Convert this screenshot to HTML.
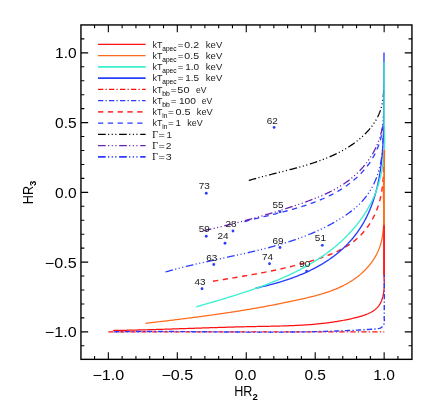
<!DOCTYPE html>
<html><head><meta charset="utf-8"><title>HR plot</title>
<style>
html,body{margin:0;padding:0;background:#fff;}
body{width:436px;height:411px;position:relative;overflow:hidden;font-family:"Liberation Sans",sans-serif;}
</style></head><body>
<svg width="436" height="411" viewBox="0 0 436 411" style="position:absolute;left:0;top:0;will-change:transform;opacity:0.999">
<rect x="0" y="0" width="436" height="411" fill="#fff"/>
<path d="M108.30,331.85 L384.30,331.85" fill="none" stroke="#ff1010" stroke-width="1.25" stroke-dasharray="5.3 2.2 1.3 2.2" stroke-linejoin="round"/>
<path d="M213.00,281.25 L214.21,281.05 L215.41,280.84 L216.62,280.64 L217.82,280.44 L219.03,280.24 L220.23,280.04 L221.43,279.84 L222.63,279.64 L223.83,279.44 L225.03,279.24 L226.22,279.04 L227.42,278.84 L228.62,278.64 L229.81,278.44 L231.00,278.24 L232.20,278.04 L233.39,277.84 L234.58,277.64 L235.77,277.44 L236.96,277.24 L238.15,277.04 L239.34,276.84 L240.52,276.64 L241.71,276.43 L242.90,276.23 L244.08,276.02 L245.27,275.82 L246.45,275.61 L247.64,275.41 L248.82,275.20 L250.00,274.99 L251.18,274.78 L252.37,274.56 L253.55,274.35 L254.73,274.14 L255.91,273.92 L257.09,273.70 L258.27,273.48 L259.45,273.26 L260.62,273.04 L261.80,272.82 L262.98,272.59 L264.16,272.36 L265.34,272.13 L266.51,271.90 L267.69,271.67 L268.87,271.43 L270.04,271.19 L271.22,270.95 L272.40,270.71 L273.57,270.47 L274.75,270.22 L275.92,269.97 L277.10,269.71 L278.27,269.46 L279.45,269.20 L280.63,268.94 L281.80,268.68 L282.98,268.41 L284.15,268.14 L285.33,267.87 L286.50,267.59 L287.68,267.32 L288.86,267.03 L290.03,266.75 L291.21,266.46 L292.38,266.17 L293.56,265.87 L294.74,265.58 L295.92,265.27 L297.09,264.97 L298.27,264.66 L299.45,264.34 L300.63,264.03 L301.80,263.71 L302.98,263.38 L304.16,263.05 L305.34,262.72 L306.52,262.38 L307.70,262.04 L308.88,261.70 L310.07,261.35 L311.25,260.99 L312.43,260.63 L313.61,260.27 L314.80,259.90 L315.98,259.53 L317.16,259.15 L318.34,258.76 L319.52,258.37 L320.69,257.97 L321.87,257.57 L323.04,257.16 L324.21,256.74 L325.37,256.32 L326.53,255.88 L327.69,255.44 L328.84,254.99 L329.99,254.54 L331.13,254.07 L332.27,253.59 L333.40,253.11 L334.52,252.62 L335.64,252.11 L336.75,251.60 L337.85,251.07 L338.94,250.54 L340.03,249.99 L341.11,249.44 L342.18,248.87 L343.24,248.29 L344.28,247.70 L345.32,247.09 L346.35,246.47 L347.37,245.84 L348.38,245.20 L349.38,244.55 L350.36,243.88 L351.33,243.19 L352.29,242.50 L353.24,241.78 L354.17,241.06 L355.09,240.32 L355.99,239.56 L356.88,238.79 L357.76,238.00 L358.62,237.20 L359.47,236.39 L360.31,235.56 L361.12,234.72 L361.93,233.86 L362.72,232.99 L363.50,232.10 L364.26,231.21 L365.01,230.30 L365.74,229.38 L366.45,228.44 L367.16,227.50 L367.85,226.54 L368.52,225.57 L369.18,224.59 L369.82,223.60 L370.45,222.59 L371.06,221.58 L371.66,220.56 L372.24,219.52 L372.81,218.48 L373.36,217.42 L373.90,216.36 L374.42,215.28 L374.93,214.20 L375.42,213.11 L375.90,212.01 L376.36,210.90 L376.80,209.78 L377.23,208.65 L377.64,207.52 L378.04,206.38 L378.42,205.23 L378.79,204.07 L379.14,202.91 L379.48,201.74 L379.79,200.56 L380.10,199.38 L380.38,198.19 L380.66,196.99 L380.91,195.79 L381.15,194.59 L381.38,193.38 L381.60,192.17 L381.80,190.95 L381.99,189.73 L382.16,188.50 L382.33,187.27 L382.48,186.04 L382.62,184.81 L382.75,183.58 L382.87,182.34 L382.98,181.11 L383.08,179.87 L383.17,178.63 L383.26,177.39 L383.33,176.15 L383.40,174.92 L383.46,173.68 L383.52,172.45 L383.56,171.21 L383.60,169.98 L383.64,168.75 L383.67,167.53 L383.70,166.30 L383.72,165.09 L383.74,163.87 L383.75,162.66 L383.76,161.45 L383.77,160.25 L383.78,159.05 L383.78,157.86 L383.79,156.68 L383.79,155.50 L383.79,154.32 L383.80,153.16 L383.80,152.00" fill="none" stroke="#ff2020" stroke-width="1.45" stroke-dasharray="5.3 4.5" stroke-linejoin="round"/>
<path d="M244.50,221.60 L245.61,221.30 L246.72,221.00 L247.84,220.70 L248.96,220.41 L250.09,220.12 L251.22,219.82 L252.36,219.53 L253.49,219.24 L254.64,218.96 L255.78,218.67 L256.93,218.38 L258.09,218.09 L259.24,217.81 L260.40,217.52 L261.56,217.23 L262.73,216.95 L263.89,216.66 L265.06,216.38 L266.24,216.09 L267.41,215.80 L268.59,215.51 L269.76,215.22 L270.94,214.93 L272.13,214.64 L273.31,214.35 L274.49,214.05 L275.68,213.76 L276.86,213.46 L278.05,213.16 L279.24,212.86 L280.43,212.55 L281.62,212.25 L282.81,211.94 L284.00,211.63 L285.19,211.31 L286.38,211.00 L287.57,210.68 L288.76,210.35 L289.95,210.03 L291.13,209.70 L292.32,209.37 L293.51,209.03 L294.69,208.69 L295.88,208.34 L297.06,207.99 L298.24,207.64 L299.42,207.28 L300.60,206.92 L301.78,206.55 L302.95,206.18 L304.12,205.80 L305.29,205.42 L306.46,205.04 L307.62,204.64 L308.79,204.24 L309.95,203.84 L311.10,203.43 L312.25,203.02 L313.40,202.59 L314.55,202.17 L315.69,201.73 L316.83,201.29 L317.97,200.84 L319.10,200.39 L320.22,199.93 L321.35,199.46 L322.46,198.98 L323.58,198.50 L324.69,198.01 L325.79,197.51 L326.89,197.00 L327.98,196.49 L329.07,195.96 L330.15,195.43 L331.23,194.90 L332.30,194.35 L333.37,193.79 L334.43,193.23 L335.48,192.65 L336.53,192.07 L337.57,191.48 L338.61,190.87 L339.64,190.26 L340.66,189.64 L341.67,189.01 L342.68,188.37 L343.68,187.72 L344.67,187.06 L345.66,186.39 L346.63,185.71 L347.60,185.01 L348.56,184.31 L349.52,183.60 L350.46,182.87 L351.40,182.14 L352.33,181.39 L353.25,180.63 L354.16,179.86 L355.06,179.07 L355.96,178.28 L356.84,177.47 L357.71,176.66 L358.58,175.83 L359.43,174.99 L360.27,174.13 L361.11,173.27 L361.93,172.39 L362.74,171.51 L363.53,170.61 L364.32,169.70 L365.09,168.78 L365.86,167.85 L366.60,166.91 L367.34,165.96 L368.06,165.00 L368.77,164.03 L369.46,163.05 L370.14,162.06 L370.80,161.06 L371.45,160.04 L372.08,159.02 L372.70,157.99 L373.30,156.95 L373.89,155.90 L374.46,154.84 L375.01,153.77 L375.54,152.70 L376.06,151.61 L376.56,150.51 L377.04,149.41 L377.51,148.29 L377.95,147.17 L378.38,146.04 L378.79,144.91 L379.19,143.76 L379.56,142.61 L379.92,141.45 L380.25,140.29 L380.58,139.12 L380.88,137.94 L381.16,136.76 L381.43,135.57 L381.68,134.38 L381.91,133.18 L382.12,131.98 L382.31,130.77 L382.49,129.56 L382.64,128.35 L382.78,127.13 L382.90,125.91 L383.00,124.68 L383.09,123.46 L383.15,122.23 L383.20,121.00" fill="none" stroke="#2a3cff" stroke-width="1.3" stroke-dasharray="5.3 4.5" stroke-linejoin="round"/>
<path d="M248.75,180.50 L249.86,180.16 L250.98,179.83 L252.11,179.50 L253.23,179.17 L254.37,178.85 L255.50,178.53 L256.64,178.21 L257.79,177.89 L258.94,177.58 L260.09,177.27 L261.24,176.96 L262.40,176.65 L263.56,176.35 L264.73,176.04 L265.90,175.74 L267.07,175.44 L268.24,175.14 L269.42,174.84 L270.60,174.54 L271.78,174.24 L272.96,173.94 L274.15,173.65 L275.34,173.35 L276.53,173.05 L277.72,172.75 L278.91,172.45 L280.10,172.15 L281.30,171.85 L282.49,171.55 L283.69,171.25 L284.89,170.95 L286.09,170.64 L287.29,170.34 L288.48,170.03 L289.68,169.72 L290.88,169.41 L292.08,169.09 L293.28,168.78 L294.48,168.46 L295.68,168.14 L296.87,167.81 L298.07,167.48 L299.26,167.15 L300.46,166.82 L301.65,166.48 L302.84,166.14 L304.03,165.79 L305.22,165.44 L306.41,165.09 L307.59,164.73 L308.78,164.37 L309.96,164.00 L311.13,163.63 L312.31,163.25 L313.48,162.87 L314.65,162.48 L315.82,162.08 L316.98,161.68 L318.14,161.28 L319.30,160.87 L320.46,160.45 L321.61,160.02 L322.75,159.59 L323.90,159.16 L325.03,158.71 L326.17,158.26 L327.30,157.80 L328.42,157.34 L329.54,156.86 L330.66,156.38 L331.77,155.89 L332.88,155.40 L333.98,154.89 L335.07,154.38 L336.17,153.85 L337.25,153.32 L338.33,152.78 L339.40,152.23 L340.47,151.68 L341.53,151.11 L342.58,150.53 L343.63,149.95 L344.67,149.35 L345.71,148.74 L346.73,148.13 L347.75,147.50 L348.77,146.86 L349.77,146.21 L350.77,145.55 L351.76,144.88 L352.75,144.20 L353.72,143.51 L354.69,142.81 L355.65,142.09 L356.60,141.36 L357.54,140.62 L358.48,139.87 L359.40,139.11 L360.32,138.33 L361.22,137.54 L362.12,136.74 L363.01,135.93 L363.89,135.10 L364.76,134.26 L365.61,133.40 L366.46,132.54 L367.29,131.66 L368.10,130.77 L368.91,129.86 L369.69,128.94 L370.47,128.01 L371.22,127.07 L371.96,126.11 L372.68,125.14 L373.38,124.16 L374.06,123.16 L374.72,122.15 L375.36,121.13 L375.97,120.10 L376.57,119.05 L377.14,117.99 L377.69,116.92 L378.21,115.83 L378.71,114.73 L379.18,113.62 L379.63,112.50 L380.05,111.36 L380.44,110.21 L380.80,109.05 L381.14,107.88 L381.45,106.70 L381.74,105.51 L382.01,104.31 L382.25,103.10 L382.48,101.89 L382.68,100.68 L382.86,99.46 L383.02,98.23 L383.17,97.01 L383.29,95.78 L383.41,94.55 L383.50,93.32 L383.58,92.09 L383.65,90.87 L383.70,89.64 L383.75,88.42 L383.78,87.21 L383.80,86.00" fill="none" stroke="#000" stroke-width="1.25" stroke-dasharray="7.7 2.4 1.1 2.5 1.1 2.5 1.1 2.7" stroke-linejoin="round"/>
<path d="M203.75,230.75 L204.94,230.48 L206.12,230.20 L207.31,229.93 L208.49,229.65 L209.68,229.38 L210.86,229.10 L212.04,228.82 L213.22,228.54 L214.40,228.26 L215.58,227.98 L216.76,227.70 L217.94,227.42 L219.12,227.14 L220.29,226.85 L221.47,226.57 L222.64,226.28 L223.82,225.99 L224.99,225.70 L226.16,225.41 L227.33,225.12 L228.50,224.83 L229.67,224.54 L230.84,224.25 L232.01,223.95 L233.18,223.65 L234.35,223.36 L235.51,223.06 L236.68,222.76 L237.85,222.46 L239.01,222.16 L240.18,221.85 L241.34,221.55 L242.50,221.24 L243.67,220.93 L244.83,220.62 L245.99,220.31 L247.15,220.00 L248.31,219.69 L249.47,219.38 L250.63,219.06 L251.79,218.74 L252.95,218.42 L254.11,218.10 L255.27,217.78 L256.43,217.46 L257.58,217.13 L258.74,216.81 L259.90,216.48 L261.05,216.15 L262.21,215.82 L263.37,215.48 L264.52,215.15 L265.68,214.81 L266.83,214.48 L267.99,214.14 L269.14,213.79 L270.29,213.45 L271.45,213.11 L272.60,212.76 L273.75,212.41 L274.91,212.06 L276.06,211.71 L277.21,211.35 L278.36,211.00 L279.52,210.64 L280.67,210.28 L281.82,209.92 L282.97,209.56 L284.12,209.19 L285.28,208.82 L286.43,208.45 L287.58,208.08 L288.73,207.71 L289.88,207.33 L291.03,206.96 L292.18,206.58 L293.33,206.19 L294.49,205.81 L295.64,205.42 L296.79,205.04 L297.94,204.65 L299.09,204.25 L300.24,203.86 L301.39,203.46 L302.54,203.06 L303.69,202.66 L304.84,202.25 L305.99,201.84 L307.14,201.43 L308.28,201.01 L309.43,200.59 L310.57,200.16 L311.71,199.73 L312.85,199.30 L313.98,198.86 L315.12,198.41 L316.25,197.96 L317.38,197.51 L318.50,197.05 L319.62,196.58 L320.74,196.10 L321.86,195.62 L322.97,195.14 L324.08,194.64 L325.18,194.14 L326.28,193.64 L327.37,193.12 L328.46,192.60 L329.55,192.07 L330.63,191.53 L331.70,190.98 L332.77,190.42 L333.83,189.86 L334.89,189.28 L335.94,188.70 L336.99,188.11 L338.03,187.51 L339.06,186.89 L340.09,186.27 L341.11,185.64 L342.12,185.00 L343.12,184.34 L344.12,183.68 L345.11,183.00 L346.09,182.31 L347.07,181.61 L348.03,180.90 L348.99,180.18 L349.94,179.45 L350.88,178.70 L351.81,177.94 L352.73,177.17 L353.64,176.39 L354.55,175.60 L355.44,174.80 L356.32,173.98 L357.19,173.16 L358.06,172.32 L358.91,171.48 L359.75,170.62 L360.58,169.75 L361.39,168.87 L362.20,167.98 L363.00,167.09 L363.78,166.18 L364.55,165.26 L365.31,164.33 L366.05,163.39 L366.79,162.45 L367.51,161.49 L368.21,160.52 L368.90,159.55 L369.58,158.56 L370.25,157.57 L370.90,156.56 L371.54,155.55 L372.16,154.53 L372.77,153.50 L373.36,152.47 L373.94,151.42 L374.50,150.37 L375.05,149.30 L375.58,148.23 L376.10,147.15 L376.60,146.07 L377.08,144.97 L377.55,143.87 L378.00,142.76 L378.43,141.65 L378.84,140.52 L379.24,139.39 L379.62,138.26 L379.98,137.11 L380.33,135.96 L380.65,134.80 L380.96,133.64 L381.25,132.47 L381.52,131.29 L381.77,130.11 L382.00,128.92 L382.22,127.72 L382.41,126.52 L382.58,125.31 L382.73,124.10 L382.86,122.88 L382.98,121.65 L383.07,120.42 L383.14,119.19 L383.18,117.95 L383.21,116.70 L383.22,115.45 L383.20,114.20" fill="none" stroke="#6a22b4" stroke-width="1.3" stroke-dasharray="7.7 2.4 1.1 2.5 1.1 2.5 1.1 2.7" stroke-linejoin="round"/>
<path d="M165.50,272.00 L166.63,271.67 L167.76,271.34 L168.89,271.01 L170.03,270.69 L171.17,270.37 L172.31,270.05 L173.45,269.73 L174.59,269.42 L175.74,269.11 L176.88,268.81 L178.03,268.50 L179.18,268.20 L180.34,267.90 L181.49,267.61 L182.65,267.31 L183.80,267.02 L184.96,266.73 L186.12,266.45 L187.28,266.16 L188.45,265.88 L189.61,265.60 L190.78,265.32 L191.95,265.04 L193.12,264.76 L194.29,264.49 L195.46,264.22 L196.63,263.95 L197.80,263.68 L198.98,263.41 L200.15,263.14 L201.33,262.88 L202.51,262.61 L203.69,262.35 L204.87,262.09 L206.05,261.83 L207.23,261.57 L208.41,261.31 L209.60,261.05 L210.78,260.79 L211.96,260.54 L213.15,260.28 L214.33,260.02 L215.52,259.77 L216.71,259.51 L217.90,259.26 L219.08,259.00 L220.27,258.75 L221.46,258.49 L222.65,258.24 L223.84,257.99 L225.03,257.73 L226.22,257.48 L227.41,257.22 L228.60,256.96 L229.79,256.71 L230.98,256.45 L232.17,256.19 L233.36,255.94 L234.56,255.68 L235.75,255.42 L236.94,255.16 L238.13,254.90 L239.32,254.64 L240.51,254.37 L241.70,254.11 L242.89,253.84 L244.08,253.58 L245.27,253.31 L246.46,253.04 L247.64,252.77 L248.83,252.50 L250.02,252.22 L251.21,251.95 L252.39,251.67 L253.58,251.39 L254.76,251.11 L255.95,250.83 L257.13,250.54 L258.31,250.25 L259.50,249.96 L260.68,249.67 L261.86,249.38 L263.04,249.08 L264.22,248.78 L265.39,248.48 L266.57,248.18 L267.75,247.87 L268.92,247.56 L270.09,247.25 L271.27,246.93 L272.44,246.62 L273.61,246.29 L274.77,245.97 L275.94,245.64 L277.11,245.31 L278.27,244.98 L279.43,244.64 L280.60,244.30 L281.76,243.96 L282.91,243.61 L284.07,243.26 L285.23,242.90 L286.38,242.54 L287.53,242.18 L288.68,241.82 L289.83,241.44 L290.97,241.07 L292.12,240.69 L293.26,240.31 L294.40,239.92 L295.54,239.53 L296.68,239.13 L297.81,238.73 L298.95,238.33 L300.08,237.92 L301.20,237.50 L302.33,237.08 L303.45,236.66 L304.58,236.23 L305.70,235.80 L306.81,235.36 L307.93,234.91 L309.04,234.46 L310.15,234.01 L311.26,233.55 L312.36,233.08 L313.46,232.61 L314.56,232.14 L315.66,231.66 L316.76,231.17 L317.85,230.67 L318.94,230.18 L320.02,229.67 L321.11,229.16 L322.19,228.64 L323.26,228.12 L324.34,227.59 L325.41,227.05 L326.48,226.51 L327.54,225.96 L328.61,225.41 L329.67,224.85 L330.72,224.28 L331.78,223.71 L332.83,223.12 L333.87,222.54 L334.91,221.94 L335.95,221.34 L336.99,220.73 L338.02,220.12 L339.05,219.49 L340.08,218.86 L341.10,218.22 L342.12,217.58 L343.13,216.93 L344.14,216.26 L345.14,215.59 L346.14,214.92 L347.13,214.23 L348.11,213.53 L349.09,212.83 L350.06,212.11 L351.01,211.38 L351.96,210.65 L352.90,209.90 L353.83,209.14 L354.75,208.38 L355.66,207.60 L356.56,206.81 L357.44,206.00 L358.31,205.19 L359.17,204.36 L360.02,203.52 L360.85,202.67 L361.67,201.80 L362.47,200.92 L363.26,200.03 L364.03,199.12 L364.79,198.20 L365.53,197.27 L366.25,196.33 L366.97,195.37 L367.66,194.40 L368.34,193.42 L369.00,192.43 L369.65,191.42 L370.28,190.41 L370.89,189.38 L371.49,188.34 L372.08,187.30 L372.64,186.24 L373.19,185.17 L373.73,184.09 L374.24,183.00 L374.74,181.90 L375.23,180.79 L375.69,179.67 L376.14,178.55 L376.58,177.41 L377.00,176.27 L377.40,175.12 L377.79,173.97 L378.16,172.80 L378.51,171.63 L378.85,170.46 L379.18,169.27 L379.49,168.09 L379.78,166.90 L380.06,165.70 L380.33,164.50 L380.58,163.30 L380.82,162.10 L381.05,160.89 L381.26,159.68 L381.46,158.47 L381.65,157.25 L381.82,156.04 L381.98,154.82 L382.13,153.61 L382.26,152.40 L382.39,151.18 L382.50,149.97 L382.60,148.76 L382.69,147.55 L382.76,146.34 L382.83,145.14 L382.88,143.94 L382.93,142.74 L382.96,141.55 L382.98,140.36 L383.00,139.18 L383.00,138.00" fill="none" stroke="#2a3cff" stroke-width="1.3" stroke-dasharray="7.7 2.4 1.1 2.5 1.1 2.5 1.1 2.7" stroke-linejoin="round"/>
<path d="M113.10,330.50 L114.31,330.48 L115.52,330.46 L116.72,330.44 L117.93,330.42 L119.14,330.40 L120.35,330.38 L121.55,330.35 L122.76,330.33 L123.97,330.31 L125.18,330.28 L126.39,330.26 L127.59,330.23 L128.80,330.20 L130.01,330.18 L131.22,330.15 L132.43,330.12 L133.64,330.09 L134.84,330.06 L136.05,330.04 L137.26,330.01 L138.47,329.97 L139.68,329.94 L140.89,329.91 L142.10,329.88 L143.30,329.85 L144.51,329.82 L145.72,329.78 L146.93,329.75 L148.14,329.72 L149.35,329.68 L150.56,329.65 L151.77,329.61 L152.98,329.58 L154.18,329.54 L155.39,329.51 L156.60,329.47 L157.81,329.43 L159.02,329.40 L160.23,329.36 L161.44,329.32 L162.65,329.28 L163.86,329.25 L165.07,329.21 L166.28,329.17 L167.49,329.13 L168.69,329.09 L169.90,329.05 L171.11,329.01 L172.32,328.98 L173.53,328.94 L174.74,328.90 L175.95,328.86 L177.16,328.82 L178.37,328.78 L179.58,328.74 L180.79,328.70 L182.00,328.66 L183.21,328.62 L184.42,328.58 L185.62,328.54 L186.83,328.50 L188.04,328.46 L189.25,328.42 L190.46,328.38 L191.67,328.34 L192.88,328.30 L194.09,328.26 L195.30,328.22 L196.51,328.18 L197.72,328.14 L198.93,328.10 L200.14,328.06 L201.34,328.02 L202.55,327.98 L203.76,327.94 L204.97,327.90 L206.18,327.86 L207.39,327.82 L208.60,327.78 L209.81,327.74 L211.02,327.70 L212.23,327.67 L213.44,327.63 L214.64,327.59 L215.85,327.55 L217.06,327.51 L218.27,327.48 L219.48,327.44 L220.69,327.40 L221.90,327.37 L223.11,327.33 L224.31,327.30 L225.52,327.26 L226.73,327.23 L227.94,327.19 L229.15,327.16 L230.36,327.12 L231.57,327.09 L232.77,327.06 L233.98,327.02 L235.19,326.99 L236.40,326.96 L237.61,326.93 L238.82,326.90 L240.02,326.87 L241.23,326.84 L242.44,326.81 L243.65,326.78 L244.85,326.75 L246.06,326.72 L247.27,326.70 L248.48,326.67 L249.69,326.64 L250.89,326.62 L252.10,326.59 L253.31,326.57 L254.52,326.54 L255.72,326.52 L256.93,326.50 L258.14,326.47 L259.34,326.45 L260.55,326.43 L261.76,326.41 L262.97,326.39 L264.17,326.36 L265.38,326.34 L266.59,326.32 L267.79,326.30 L269.00,326.27 L270.21,326.25 L271.41,326.23 L272.62,326.20 L273.82,326.18 L275.03,326.15 L276.24,326.12 L277.44,326.09 L278.65,326.07 L279.86,326.03 L281.06,326.00 L282.27,325.97 L283.47,325.93 L284.68,325.90 L285.89,325.86 L287.09,325.82 L288.30,325.78 L289.50,325.73 L290.71,325.69 L291.91,325.64 L293.12,325.59 L294.32,325.54 L295.53,325.48 L296.74,325.43 L297.94,325.37 L299.15,325.30 L300.35,325.24 L301.56,325.17 L302.76,325.10 L303.97,325.02 L305.17,324.95 L306.38,324.87 L307.58,324.78 L308.79,324.69 L309.99,324.60 L311.20,324.51 L312.40,324.41 L313.61,324.31 L314.81,324.20 L316.02,324.09 L317.22,323.98 L318.43,323.86 L319.63,323.74 L320.84,323.61 L322.04,323.48 L323.25,323.35 L324.45,323.21 L325.65,323.06 L326.86,322.91 L328.06,322.76 L329.27,322.60 L330.47,322.43 L331.68,322.26 L332.88,322.09 L334.09,321.91 L335.29,321.72 L336.49,321.53 L337.70,321.33 L338.90,321.13 L340.11,320.92 L341.31,320.71 L342.52,320.49 L343.72,320.26 L344.92,320.03 L346.13,319.79 L347.33,319.54 L348.54,319.29 L349.74,319.04 L350.94,318.77 L352.15,318.50 L353.35,318.22 L354.56,317.94 L355.76,317.64 L356.96,317.34 L358.16,317.03 L359.36,316.71 L360.55,316.38 L361.72,316.03 L362.89,315.67 L364.04,315.28 L365.18,314.88 L366.30,314.46 L367.41,314.01 L368.49,313.54 L369.55,313.04 L370.58,312.51 L371.58,311.96 L372.56,311.37 L373.51,310.75 L374.42,310.09 L375.29,309.40 L376.13,308.67 L376.93,307.90 L377.69,307.09 L378.41,306.24 L379.08,305.34 L379.70,304.40 L380.28,303.41 L380.81,302.38 L381.29,301.31 L381.74,300.20 L382.14,299.07 L382.51,297.91 L382.83,296.72 L383.12,295.50 L383.37,294.27 L383.59,293.03 L383.77,291.77 L383.93,290.50 L384.05,289.23 L384.15,287.95 L384.22,286.67 L384.26,285.40 L384.28,284.13 L384.27,282.87 L384.25,281.63 L384.20,280.40 L384.13,279.19 L384.05,278.00 L384.05,224.00" fill="none" stroke="#ff1010" stroke-width="1.25" stroke-linejoin="round"/>
<path d="M145.50,323.30 L146.72,323.16 L147.94,323.02 L149.16,322.88 L150.38,322.74 L151.59,322.60 L152.81,322.46 L154.02,322.32 L155.24,322.18 L156.45,322.04 L157.66,321.90 L158.87,321.75 L160.08,321.61 L161.29,321.47 L162.50,321.33 L163.71,321.19 L164.91,321.04 L166.12,320.90 L167.32,320.76 L168.53,320.61 L169.73,320.47 L170.93,320.32 L172.13,320.18 L173.33,320.03 L174.53,319.89 L175.73,319.74 L176.93,319.59 L178.13,319.45 L179.33,319.30 L180.52,319.15 L181.72,319.00 L182.91,318.85 L184.11,318.70 L185.30,318.55 L186.49,318.40 L187.69,318.25 L188.88,318.10 L190.07,317.95 L191.26,317.79 L192.45,317.64 L193.64,317.48 L194.83,317.33 L196.01,317.17 L197.20,317.02 L198.39,316.86 L199.58,316.70 L200.76,316.54 L201.95,316.38 L203.13,316.22 L204.32,316.06 L205.50,315.90 L206.69,315.74 L207.87,315.58 L209.06,315.41 L210.24,315.25 L211.42,315.08 L212.60,314.92 L213.79,314.75 L214.97,314.58 L216.15,314.41 L217.33,314.24 L218.51,314.07 L219.69,313.90 L220.87,313.73 L222.05,313.56 L223.23,313.38 L224.41,313.21 L225.59,313.03 L226.77,312.85 L227.95,312.67 L229.13,312.50 L230.31,312.31 L231.49,312.13 L232.67,311.95 L233.84,311.77 L235.02,311.58 L236.20,311.40 L237.38,311.21 L238.56,311.02 L239.74,310.83 L240.92,310.64 L242.09,310.45 L243.27,310.26 L244.45,310.07 L245.63,309.87 L246.81,309.68 L247.99,309.48 L249.16,309.28 L250.34,309.08 L251.52,308.88 L252.70,308.68 L253.88,308.47 L255.06,308.27 L256.24,308.06 L257.42,307.85 L258.60,307.65 L259.78,307.44 L260.96,307.22 L262.14,307.01 L263.32,306.80 L264.50,306.58 L265.68,306.36 L266.86,306.15 L268.05,305.93 L269.23,305.70 L270.41,305.48 L271.59,305.26 L272.78,305.03 L273.96,304.80 L275.14,304.57 L276.33,304.34 L277.51,304.11 L278.70,303.88 L279.88,303.64 L281.07,303.41 L282.25,303.17 L283.44,302.93 L284.63,302.69 L285.82,302.44 L287.01,302.20 L288.19,301.95 L289.38,301.70 L290.57,301.45 L291.76,301.20 L292.96,300.95 L294.15,300.69 L295.34,300.44 L296.53,300.18 L297.73,299.92 L298.92,299.66 L300.12,299.39 L301.31,299.13 L302.51,298.86 L303.70,298.59 L304.90,298.31 L306.09,298.03 L307.28,297.75 L308.48,297.47 L309.67,297.18 L310.86,296.89 L312.05,296.59 L313.24,296.29 L314.42,295.98 L315.61,295.66 L316.79,295.35 L317.97,295.02 L319.14,294.69 L320.31,294.35 L321.48,294.01 L322.65,293.66 L323.81,293.30 L324.97,292.93 L326.13,292.56 L327.28,292.18 L328.43,291.79 L329.57,291.39 L330.71,290.98 L331.84,290.56 L332.97,290.14 L334.09,289.70 L335.21,289.26 L336.32,288.80 L337.42,288.33 L338.52,287.86 L339.61,287.37 L340.70,286.87 L341.78,286.36 L342.85,285.83 L343.92,285.30 L344.97,284.75 L346.02,284.19 L347.07,283.62 L348.10,283.03 L349.13,282.44 L350.14,281.82 L351.15,281.20 L352.15,280.56 L353.15,279.90 L354.13,279.23 L355.10,278.54 L356.06,277.84 L357.02,277.13 L357.96,276.40 L358.89,275.65 L359.81,274.89 L360.72,274.12 L361.61,273.33 L362.50,272.53 L363.37,271.71 L364.23,270.88 L365.07,270.04 L365.90,269.18 L366.71,268.31 L367.51,267.42 L368.30,266.53 L369.06,265.62 L369.81,264.69 L370.55,263.76 L371.27,262.81 L371.97,261.85 L372.65,260.88 L373.31,259.89 L373.96,258.90 L374.58,257.89 L375.19,256.87 L375.77,255.84 L376.34,254.80 L376.88,253.75 L377.40,252.68 L377.90,251.61 L378.38,250.52 L378.83,249.43 L379.27,248.32 L379.68,247.21 L380.06,246.08 L380.42,244.95 L380.76,243.80 L381.07,242.65 L381.37,241.49 L381.64,240.32 L381.89,239.14 L382.12,237.95 L382.33,236.76 L382.53,235.57 L382.71,234.36 L382.87,233.16 L383.01,231.94 L383.14,230.73 L383.26,229.50 L383.36,228.28 L383.45,227.05 L383.52,225.82 L383.59,224.59 L383.64,223.36 L383.69,222.12 L383.72,220.89 L383.75,219.65 L383.77,218.42 L383.78,217.18 L383.78,215.95 L383.78,214.71 L383.77,213.48 L383.76,212.24 L383.75,211.01 L383.73,209.78 L383.70,208.55 L383.68,207.32 L383.65,206.09 L383.62,204.87 L383.60,203.64 L383.57,202.42 L383.54,201.20 L383.51,199.98 L383.48,198.76 L383.46,197.54 L383.44,196.33 L383.42,195.12 L383.41,193.91 L383.40,192.70 L383.39,191.50 L383.40,190.30 L383.40,189.10 L383.42,187.91 L383.44,186.71 L383.47,185.53 L383.51,184.34 L383.56,183.16 L383.62,181.98 L383.68,180.81 L383.76,179.64 L383.85,178.47 L383.96,177.31 L384.07,176.15 L384.20,175.00 L384.50,150.00 L384.50,127.00" fill="none" stroke="#ff6a1a" stroke-width="1.25" stroke-linejoin="round"/>
<path d="M255.50,288.25 L256.65,288.00 L257.81,287.75 L258.96,287.49 L260.12,287.23 L261.28,286.96 L262.44,286.69 L263.60,286.42 L264.76,286.14 L265.92,285.85 L267.09,285.56 L268.25,285.27 L269.42,284.97 L270.58,284.67 L271.75,284.36 L272.91,284.04 L274.08,283.72 L275.24,283.40 L276.41,283.07 L277.57,282.73 L278.73,282.39 L279.90,282.04 L281.06,281.69 L282.22,281.33 L283.38,280.97 L284.54,280.60 L285.70,280.22 L286.85,279.84 L288.01,279.45 L289.16,279.05 L290.31,278.65 L291.46,278.24 L292.61,277.83 L293.75,277.41 L294.90,276.98 L296.04,276.55 L297.17,276.10 L298.31,275.66 L299.44,275.20 L300.57,274.74 L301.70,274.27 L302.82,273.79 L303.94,273.30 L305.06,272.81 L306.17,272.31 L307.28,271.81 L308.38,271.29 L309.48,270.77 L310.58,270.24 L311.67,269.70 L312.76,269.15 L313.85,268.60 L314.93,268.03 L316.00,267.46 L317.07,266.88 L318.14,266.30 L319.20,265.70 L320.25,265.09 L321.30,264.48 L322.35,263.86 L323.39,263.23 L324.42,262.59 L325.45,261.94 L326.47,261.28 L327.48,260.61 L328.49,259.94 L329.49,259.25 L330.49,258.56 L331.48,257.85 L332.46,257.14 L333.43,256.42 L334.40,255.69 L335.36,254.95 L336.31,254.20 L337.25,253.45 L338.19,252.68 L339.12,251.91 L340.04,251.12 L340.95,250.33 L341.85,249.53 L342.74,248.72 L343.63,247.90 L344.50,247.07 L345.37,246.23 L346.22,245.38 L347.07,244.52 L347.91,243.66 L348.73,242.78 L349.55,241.90 L350.36,241.01 L351.15,240.11 L351.94,239.20 L352.71,238.28 L353.48,237.35 L354.23,236.42 L354.98,235.48 L355.71,234.53 L356.43,233.57 L357.14,232.60 L357.84,231.63 L358.53,230.65 L359.21,229.66 L359.88,228.67 L360.53,227.67 L361.18,226.66 L361.81,225.64 L362.43,224.62 L363.04,223.59 L363.64,222.56 L364.22,221.52 L364.80,220.47 L365.36,219.41 L365.91,218.35 L366.45,217.29 L366.98,216.22 L367.50,215.14 L368.01,214.06 L368.51,212.97 L368.99,211.88 L369.47,210.78 L369.94,209.68 L370.39,208.57 L370.84,207.46 L371.27,206.34 L371.70,205.22 L372.11,204.09 L372.52,202.96 L372.92,201.82 L373.30,200.68 L373.68,199.54 L374.05,198.39 L374.41,197.24 L374.76,196.08 L375.10,194.92 L375.43,193.76 L375.76,192.59 L376.07,191.42 L376.38,190.25 L376.68,189.07 L376.97,187.89 L377.26,186.71 L377.53,185.52 L377.80,184.34 L378.06,183.15 L378.31,181.95 L378.55,180.76 L378.79,179.56 L379.02,178.36 L379.24,177.16 L379.46,175.95 L379.67,174.75 L379.87,173.54 L380.06,172.33 L380.25,171.12 L380.44,169.91 L380.61,168.70 L380.78,167.48 L380.94,166.27 L381.10,165.05 L381.25,163.83 L381.40,162.61 L381.54,161.40 L381.68,160.18 L381.80,158.96 L381.93,157.74 L382.05,156.52 L382.16,155.30 L382.27,154.08 L382.37,152.85 L382.47,151.63 L382.57,150.42 L382.66,149.20 L382.74,147.98 L382.83,146.76 L382.90,145.54 L382.98,144.33 L383.05,143.11 L383.11,141.90 L383.17,140.68 L383.23,139.47 L383.29,138.26 L383.34,137.05 L383.39,135.84 L383.43,134.64 L383.47,133.43 L383.51,132.23 L383.55,131.03 L383.58,129.83 L383.61,128.64 L383.64,127.45 L383.67,126.26 L383.69,125.07 L383.72,123.88 L383.74,122.70 L383.75,121.52 L383.77,120.34 L383.79,119.17 L383.80,118.00 L384.00,52.50" fill="none" stroke="#2a3cff" stroke-width="1.35" stroke-linejoin="round"/>
<path d="M196.30,306.80 L197.41,306.48 L198.52,306.16 L199.64,305.83 L200.76,305.51 L201.88,305.18 L203.00,304.86 L204.12,304.53 L205.25,304.21 L206.38,303.88 L207.51,303.55 L208.64,303.22 L209.77,302.89 L210.91,302.56 L212.05,302.23 L213.19,301.90 L214.33,301.56 L215.47,301.23 L216.61,300.89 L217.76,300.55 L218.90,300.21 L220.05,299.87 L221.20,299.53 L222.35,299.19 L223.50,298.85 L224.65,298.50 L225.80,298.15 L226.96,297.80 L228.11,297.45 L229.26,297.10 L230.42,296.75 L231.58,296.39 L232.73,296.03 L233.89,295.67 L235.05,295.31 L236.21,294.95 L237.36,294.58 L238.52,294.21 L239.68,293.84 L240.84,293.47 L242.00,293.10 L243.16,292.72 L244.32,292.34 L245.48,291.96 L246.63,291.57 L247.79,291.19 L248.95,290.80 L250.11,290.41 L251.26,290.01 L252.42,289.61 L253.58,289.21 L254.73,288.81 L255.89,288.40 L257.04,288.00 L258.19,287.58 L259.34,287.17 L260.49,286.75 L261.64,286.33 L262.79,285.91 L263.94,285.48 L265.09,285.05 L266.23,284.62 L267.37,284.18 L268.52,283.74 L269.66,283.29 L270.80,282.85 L271.93,282.39 L273.07,281.94 L274.20,281.48 L275.34,281.02 L276.47,280.55 L277.60,280.08 L278.72,279.61 L279.85,279.13 L280.97,278.65 L282.09,278.17 L283.21,277.68 L284.32,277.18 L285.44,276.68 L286.55,276.18 L287.65,275.68 L288.76,275.17 L289.86,274.65 L290.96,274.13 L292.06,273.61 L293.16,273.08 L294.25,272.55 L295.34,272.01 L296.42,271.47 L297.51,270.92 L298.59,270.37 L299.66,269.81 L300.74,269.25 L301.81,268.68 L302.87,268.11 L303.93,267.54 L304.99,266.96 L306.05,266.37 L307.10,265.78 L308.15,265.18 L309.20,264.58 L310.24,263.97 L311.27,263.36 L312.31,262.74 L313.34,262.12 L314.36,261.49 L315.38,260.86 L316.40,260.22 L317.41,259.57 L318.42,258.92 L319.42,258.26 L320.42,257.60 L321.42,256.93 L322.41,256.26 L323.39,255.58 L324.37,254.89 L325.35,254.20 L326.32,253.50 L327.29,252.79 L328.25,252.08 L329.20,251.37 L330.15,250.64 L331.10,249.91 L332.04,249.18 L332.98,248.43 L333.91,247.68 L334.83,246.93 L335.75,246.17 L336.66,245.40 L337.57,244.62 L338.47,243.84 L339.37,243.05 L340.26,242.25 L341.14,241.45 L342.02,240.64 L342.89,239.82 L343.76,239.00 L344.62,238.17 L345.48,237.33 L346.32,236.49 L347.17,235.63 L348.00,234.77 L348.83,233.91 L349.65,233.03 L350.47,232.15 L351.28,231.26 L352.08,230.37 L352.87,229.47 L353.66,228.56 L354.44,227.64 L355.21,226.72 L355.97,225.79 L356.73,224.85 L357.48,223.91 L358.22,222.96 L358.95,222.01 L359.67,221.04 L360.39,220.07 L361.10,219.10 L361.79,218.12 L362.48,217.13 L363.16,216.14 L363.83,215.14 L364.49,214.13 L365.14,213.12 L365.78,212.10 L366.41,211.08 L367.04,210.05 L367.65,209.02 L368.25,207.97 L368.84,206.93 L369.42,205.88 L369.99,204.82 L370.55,203.75 L371.10,202.69 L371.64,201.61 L372.16,200.53 L372.68,199.45 L373.18,198.36 L373.67,197.26 L374.16,196.16 L374.62,195.06 L375.08,193.95 L375.53,192.83 L375.96,191.71 L376.38,190.59 L376.79,189.46 L377.18,188.32 L377.57,187.19 L377.94,186.04 L378.30,184.90 L378.65,183.74 L378.98,182.59 L379.31,181.43 L379.63,180.27 L379.93,179.10 L380.22,177.93 L380.50,176.76 L380.77,175.58 L381.03,174.40 L381.28,173.22 L381.52,172.04 L381.75,170.85 L381.97,169.66 L382.18,168.47 L382.38,167.27 L382.57,166.08 L382.75,164.88 L382.92,163.68 L383.08,162.47 L383.23,161.27 L383.37,160.06 L383.51,158.86 L383.63,157.65 L383.75,156.44 L383.85,155.23 L383.95,154.02 L384.04,152.80 L384.12,151.59 L384.20,150.38 L384.26,149.16 L384.32,147.95 L384.37,146.74 L384.41,145.52 L384.44,144.31 L384.47,143.09 L384.49,141.88 L384.50,140.67 L384.50,139.45 L384.50,138.24 L384.49,137.03 L384.48,135.82 L384.45,134.61 L384.43,133.41 L384.39,132.20 L384.35,131.00 L384.30,129.79 L384.25,128.59 L384.19,127.39 L384.12,126.19 L384.05,125.00 L384.05,62.00" fill="none" stroke="#3cf0d2" stroke-width="1.35" stroke-linejoin="round"/>
<path d="M113.90,331.85 L115.11,331.83 L116.32,331.81 L117.52,331.79 L118.73,331.77 L119.94,331.75 L121.15,331.73 L122.36,331.72 L123.56,331.70 L124.77,331.69 L125.98,331.67 L127.19,331.66 L128.39,331.64 L129.60,331.63 L130.81,331.62 L132.02,331.61 L133.22,331.60 L134.43,331.59 L135.64,331.58 L136.84,331.57 L138.05,331.56 L139.26,331.56 L140.47,331.55 L141.67,331.54 L142.88,331.54 L144.09,331.53 L145.29,331.53 L146.50,331.52 L147.71,331.52 L148.91,331.52 L150.12,331.51 L151.33,331.51 L152.53,331.51 L153.74,331.51 L154.95,331.51 L156.15,331.51 L157.36,331.51 L158.57,331.51 L159.77,331.51 L160.98,331.51 L162.19,331.52 L163.39,331.52 L164.60,331.52 L165.81,331.53 L167.01,331.53 L168.22,331.53 L169.42,331.54 L170.63,331.54 L171.84,331.55 L173.04,331.55 L174.25,331.56 L175.45,331.57 L176.66,331.57 L177.87,331.58 L179.07,331.59 L180.28,331.59 L181.48,331.60 L182.69,331.61 L183.90,331.62 L185.10,331.62 L186.31,331.63 L187.51,331.64 L188.72,331.65 L189.93,331.66 L191.13,331.67 L192.34,331.68 L193.54,331.69 L194.75,331.70 L195.95,331.71 L197.16,331.72 L198.37,331.73 L199.57,331.74 L200.78,331.75 L201.98,331.76 L203.19,331.77 L204.39,331.78 L205.60,331.79 L206.81,331.80 L208.01,331.81 L209.22,331.82 L210.42,331.83 L211.63,331.84 L212.83,331.85 L214.04,331.86 L215.24,331.87 L216.45,331.88 L217.66,331.89 L218.86,331.90 L220.07,331.91 L221.27,331.92 L222.48,331.93 L223.68,331.94 L224.89,331.95 L226.09,331.96 L227.30,331.97 L228.51,331.98 L229.71,331.99 L230.92,332.00 L232.12,332.01 L233.33,332.02 L234.53,332.02 L235.74,332.03 L236.94,332.04 L238.15,332.05 L239.35,332.06 L240.56,332.06 L241.77,332.07 L242.97,332.08 L244.18,332.09 L245.38,332.09 L246.59,332.10 L247.79,332.10 L249.00,332.11 L250.20,332.11 L251.41,332.12 L252.62,332.12 L253.82,332.13 L255.03,332.13 L256.23,332.14 L257.44,332.14 L258.64,332.14 L259.85,332.14 L261.06,332.15 L262.26,332.15 L263.47,332.15 L264.67,332.15 L265.88,332.15 L267.08,332.15 L268.29,332.15 L269.50,332.15 L270.70,332.15 L271.91,332.14 L273.11,332.14 L274.32,332.14 L275.53,332.13 L276.73,332.13 L277.94,332.12 L279.14,332.12 L280.35,332.11 L281.56,332.11 L282.76,332.10 L283.97,332.09 L285.17,332.08 L286.38,332.07 L287.59,332.06 L288.79,332.05 L290.00,332.04 L291.21,332.03 L292.41,332.02 L293.62,332.01 L294.82,331.99 L296.03,331.98 L297.24,331.96 L298.44,331.95 L299.65,331.93 L300.86,331.91 L302.06,331.89 L303.27,331.88 L304.48,331.86 L305.68,331.84 L306.89,331.81 L308.10,331.79 L309.30,331.77 L310.51,331.75 L311.72,331.72 L312.92,331.70 L314.13,331.67 L315.34,331.64 L316.54,331.62 L317.75,331.59 L318.96,331.56 L320.17,331.53 L321.37,331.50 L322.58,331.46 L323.79,331.43 L325.00,331.40 L326.20,331.36 L327.41,331.32 L328.62,331.29 L329.82,331.25 L331.03,331.21 L332.24,331.17 L333.45,331.13 L334.66,331.09 L335.86,331.04 L337.07,331.00 L338.28,330.95 L339.49,330.91 L340.69,330.86 L341.90,330.81 L343.11,330.76 L344.32,330.71 L345.53,330.66 L346.74,330.61 L347.94,330.55 L349.15,330.50 L350.36,330.44 L351.57,330.38 L352.78,330.33 L353.99,330.27 L355.19,330.20 L356.40,330.14 L357.61,330.08 L358.82,330.01 L360.03,329.95 L361.24,329.88 L362.45,329.81 L363.66,329.74 L364.87,329.67 L366.07,329.60 L367.28,329.53 L368.49,329.45 L369.70,329.38 L370.91,329.30 L372.12,329.22 L373.33,329.14 L374.54,329.06 L375.74,328.96 L376.91,328.83 L378.05,328.64 L379.14,328.39 L380.16,328.04 L381.11,327.59 L381.96,327.02 L382.71,326.30 L383.35,325.43 L383.85,324.40 L384.20,323.20 L384.38,321.84 L384.39,320.31 L384.20,318.60 L384.30,300.00 L384.30,275.00" fill="none" stroke="#2a3cff" stroke-width="1.4" stroke-dasharray="5.3 2.2 1.3 2.2" stroke-linejoin="round"/>
<path d="M384.05,224.5 V275" stroke="#ff1010" stroke-width="1.55" fill="none"/>
<path d="M384.3,150 L384.1,185 V225.5" stroke="#ff6a1a" stroke-width="1.55" fill="none"/>
<rect x="80.95" y="24.95" width="331.0" height="334.40000000000003" fill="none" stroke="#000" stroke-width="1.4"/>
<path d="M94.56,359.35 v-3.4 M94.56,24.95 v3.4 M80.95,345.80 h3.4 M411.95,345.80 h-3.4 M108.35,359.35 v-7.2 M108.35,24.95 v7.2 M80.95,331.85 h7.2 M411.95,331.85 h-7.2 M122.14,359.35 v-3.4 M122.14,24.95 v3.4 M80.95,317.90 h3.4 M411.95,317.90 h-3.4 M135.93,359.35 v-3.4 M135.93,24.95 v3.4 M80.95,303.95 h3.4 M411.95,303.95 h-3.4 M149.72,359.35 v-3.4 M149.72,24.95 v3.4 M80.95,290.00 h3.4 M411.95,290.00 h-3.4 M163.51,359.35 v-3.4 M163.51,24.95 v3.4 M80.95,276.05 h3.4 M411.95,276.05 h-3.4 M177.30,359.35 v-7.2 M177.30,24.95 v7.2 M80.95,262.10 h7.2 M411.95,262.10 h-7.2 M191.09,359.35 v-3.4 M191.09,24.95 v3.4 M80.95,248.15 h3.4 M411.95,248.15 h-3.4 M204.88,359.35 v-3.4 M204.88,24.95 v3.4 M80.95,234.20 h3.4 M411.95,234.20 h-3.4 M218.67,359.35 v-3.4 M218.67,24.95 v3.4 M80.95,220.25 h3.4 M411.95,220.25 h-3.4 M232.46,359.35 v-3.4 M232.46,24.95 v3.4 M80.95,206.30 h3.4 M411.95,206.30 h-3.4 M246.25,359.35 v-7.2 M246.25,24.95 v7.2 M80.95,192.35 h7.2 M411.95,192.35 h-7.2 M260.04,359.35 v-3.4 M260.04,24.95 v3.4 M80.95,178.40 h3.4 M411.95,178.40 h-3.4 M273.83,359.35 v-3.4 M273.83,24.95 v3.4 M80.95,164.45 h3.4 M411.95,164.45 h-3.4 M287.62,359.35 v-3.4 M287.62,24.95 v3.4 M80.95,150.50 h3.4 M411.95,150.50 h-3.4 M301.41,359.35 v-3.4 M301.41,24.95 v3.4 M80.95,136.55 h3.4 M411.95,136.55 h-3.4 M315.20,359.35 v-7.2 M315.20,24.95 v7.2 M80.95,122.60 h7.2 M411.95,122.60 h-7.2 M328.99,359.35 v-3.4 M328.99,24.95 v3.4 M80.95,108.65 h3.4 M411.95,108.65 h-3.4 M342.78,359.35 v-3.4 M342.78,24.95 v3.4 M80.95,94.70 h3.4 M411.95,94.70 h-3.4 M356.57,359.35 v-3.4 M356.57,24.95 v3.4 M80.95,80.75 h3.4 M411.95,80.75 h-3.4 M370.36,359.35 v-3.4 M370.36,24.95 v3.4 M80.95,66.80 h3.4 M411.95,66.80 h-3.4 M384.15,359.35 v-7.2 M384.15,24.95 v7.2 M80.95,52.85 h7.2 M411.95,52.85 h-7.2 M397.94,359.35 v-3.4 M397.94,24.95 v3.4 M80.95,38.90 h3.4 M411.95,38.90 h-3.4" stroke="#000" stroke-width="1.1" fill="none"/>
<g font-family="Liberation Sans, sans-serif" font-size="14px" fill="#000">
<text x="108.35" y="379.7" text-anchor="middle" textLength="31.8" lengthAdjust="spacingAndGlyphs">−1.0</text>
<text x="76.6" y="337.45" text-anchor="end" textLength="31.8" lengthAdjust="spacingAndGlyphs">−1.0</text>
<text x="177.30" y="379.7" text-anchor="middle" textLength="31.8" lengthAdjust="spacingAndGlyphs">−0.5</text>
<text x="76.6" y="267.70" text-anchor="end" textLength="31.8" lengthAdjust="spacingAndGlyphs">−0.5</text>
<text x="245.65" y="379.7" text-anchor="middle" textLength="21.6" lengthAdjust="spacingAndGlyphs">0.0</text>
<text x="76.6" y="197.95" text-anchor="end" textLength="21.6" lengthAdjust="spacingAndGlyphs">0.0</text>
<text x="315.20" y="379.7" text-anchor="middle" textLength="21.6" lengthAdjust="spacingAndGlyphs">0.5</text>
<text x="76.6" y="128.20" text-anchor="end" textLength="21.6" lengthAdjust="spacingAndGlyphs">0.5</text>
<text x="384.15" y="379.7" text-anchor="middle" textLength="21.6" lengthAdjust="spacingAndGlyphs">1.0</text>
<text x="76.6" y="58.45" text-anchor="end" textLength="21.6" lengthAdjust="spacingAndGlyphs">1.0</text>
<text x="234.2" y="396" textLength="18.2" lengthAdjust="spacingAndGlyphs">HR</text>
<text x="252.4" y="399.6" font-size="9.5px" font-weight="bold">2</text>
<g transform="translate(32.8,204.2) rotate(-90)"><text x="0" y="0" textLength="18.2" lengthAdjust="spacingAndGlyphs">HR</text><text x="18.2" y="3.6" font-size="9.5px" font-weight="bold">3</text></g>
</g>
<g font-family="Liberation Sans, sans-serif" font-size="9.7px" fill="#1c1c1c">
<path d="M98,44.40 H145.6" stroke="#ff1010" stroke-width="1.25" fill="none"/>
<text x="152.45" y="47.60" textLength="9.90" lengthAdjust="spacingAndGlyphs">kT</text>
<text x="162.25" y="50.60" textLength="14.20" lengthAdjust="spacingAndGlyphs" font-size="6.6px" fill="#000">apec</text>
<text x="177.75" y="47.60" textLength="5.70" lengthAdjust="spacingAndGlyphs">=</text>
<text x="184.35" y="47.60" textLength="14.70" lengthAdjust="spacingAndGlyphs">0.2</text>
<text x="205.85" y="47.60" textLength="16.40" lengthAdjust="spacingAndGlyphs">keV</text>
<path d="M98,55.65 H145.6" stroke="#ff6a1a" stroke-width="1.25" fill="none"/>
<text x="152.45" y="58.85" textLength="9.90" lengthAdjust="spacingAndGlyphs">kT</text>
<text x="162.25" y="61.85" textLength="14.20" lengthAdjust="spacingAndGlyphs" font-size="6.6px" fill="#000">apec</text>
<text x="177.75" y="58.85" textLength="5.70" lengthAdjust="spacingAndGlyphs">=</text>
<text x="184.35" y="58.85" textLength="14.70" lengthAdjust="spacingAndGlyphs">0.5</text>
<text x="205.85" y="58.85" textLength="16.40" lengthAdjust="spacingAndGlyphs">keV</text>
<path d="M98,66.90 H145.6" stroke="#3cf0d2" stroke-width="1.7" fill="none"/>
<text x="152.45" y="70.10" textLength="9.90" lengthAdjust="spacingAndGlyphs">kT</text>
<text x="162.25" y="73.10" textLength="14.20" lengthAdjust="spacingAndGlyphs" font-size="6.6px" fill="#000">apec</text>
<text x="177.75" y="70.10" textLength="5.70" lengthAdjust="spacingAndGlyphs">=</text>
<text x="185.15" y="70.10" textLength="13.90" lengthAdjust="spacingAndGlyphs">1.0</text>
<text x="205.85" y="70.10" textLength="16.40" lengthAdjust="spacingAndGlyphs">keV</text>
<path d="M98,78.15 H145.6" stroke="#2a3cff" stroke-width="1.7" fill="none"/>
<text x="152.45" y="81.35" textLength="9.90" lengthAdjust="spacingAndGlyphs">kT</text>
<text x="162.25" y="84.35" textLength="14.20" lengthAdjust="spacingAndGlyphs" font-size="6.6px" fill="#000">apec</text>
<text x="177.75" y="81.35" textLength="5.70" lengthAdjust="spacingAndGlyphs">=</text>
<text x="185.15" y="81.35" textLength="13.90" lengthAdjust="spacingAndGlyphs">1.5</text>
<text x="205.85" y="81.35" textLength="16.40" lengthAdjust="spacingAndGlyphs">keV</text>
<path d="M98,89.40 H145.6" stroke="#ff1010" stroke-width="1.25" stroke-dasharray="5.3 2.2 1.3 2.2" fill="none"/>
<text x="152.45" y="92.60" textLength="9.90" lengthAdjust="spacingAndGlyphs">kT</text>
<text x="162.25" y="95.60" textLength="7.60" lengthAdjust="spacingAndGlyphs" font-size="6.6px" fill="#000">bb</text>
<text x="170.65" y="92.60" textLength="5.80" lengthAdjust="spacingAndGlyphs">=</text>
<text x="177.35" y="92.60" textLength="12.10" lengthAdjust="spacingAndGlyphs">50</text>
<text x="195.95" y="92.60" textLength="10.50" lengthAdjust="spacingAndGlyphs">eV</text>
<path d="M98,100.65 H145.6" stroke="#2a3cff" stroke-width="1.4" stroke-dasharray="5.3 2.2 1.3 2.2" fill="none"/>
<text x="152.45" y="103.85" textLength="9.90" lengthAdjust="spacingAndGlyphs">kT</text>
<text x="162.25" y="106.85" textLength="7.60" lengthAdjust="spacingAndGlyphs" font-size="6.6px" fill="#000">bb</text>
<text x="170.65" y="103.85" textLength="5.80" lengthAdjust="spacingAndGlyphs">=</text>
<text x="178.95" y="103.85" textLength="17.00" lengthAdjust="spacingAndGlyphs">100</text>
<text x="201.65" y="103.85" textLength="10.60" lengthAdjust="spacingAndGlyphs">eV</text>
<path d="M98,111.90 H145.6" stroke="#ff4040" stroke-width="1.9" stroke-dasharray="5.3 4.5" fill="none"/>
<text x="152.45" y="115.10" textLength="9.90" lengthAdjust="spacingAndGlyphs">kT</text>
<text x="162.25" y="118.10" textLength="5.00" lengthAdjust="spacingAndGlyphs" font-size="6.6px" fill="#000">in</text>
<text x="168.05" y="115.10" textLength="5.80" lengthAdjust="spacingAndGlyphs">=</text>
<text x="175.55" y="115.10" textLength="15.10" lengthAdjust="spacingAndGlyphs">0.5</text>
<text x="196.85" y="115.10" textLength="15.90" lengthAdjust="spacingAndGlyphs">keV</text>
<path d="M98,123.15 H145.6" stroke="#2a3cff" stroke-width="1.3" stroke-dasharray="5.3 4.5" fill="none"/>
<text x="152.45" y="126.35" textLength="9.90" lengthAdjust="spacingAndGlyphs">kT</text>
<text x="162.25" y="129.35" textLength="5.00" lengthAdjust="spacingAndGlyphs" font-size="6.6px" fill="#000">in</text>
<text x="168.05" y="126.35" textLength="5.80" lengthAdjust="spacingAndGlyphs">=</text>
<text x="175.60" y="126.35">1</text>
<text x="187.25" y="126.35" textLength="15.40" lengthAdjust="spacingAndGlyphs">keV</text>
<path d="M98,134.40 H145.6" stroke="#000" stroke-width="1.25" stroke-dasharray="7.7 2.4 1.1 2.5 1.1 2.5 1.1 2.7" fill="none"/>
<text x="152.25" y="137.60" textLength="5.70" lengthAdjust="spacingAndGlyphs" font-family="Liberation Serif, serif" font-size="9.8px" fill="#000">Γ</text>
<text x="158.55" y="137.60" textLength="6.40" lengthAdjust="spacingAndGlyphs">=</text>
<text x="166.60" y="137.60">1</text>
<path d="M98,145.65 H145.6" stroke="#6a22b4" stroke-width="1.3" stroke-dasharray="7.7 2.4 1.1 2.5 1.1 2.5 1.1 2.7" fill="none"/>
<text x="152.25" y="148.85" textLength="5.70" lengthAdjust="spacingAndGlyphs" font-family="Liberation Serif, serif" font-size="9.8px" fill="#000">Γ</text>
<text x="158.55" y="148.85" textLength="6.40" lengthAdjust="spacingAndGlyphs">=</text>
<text x="165.75" y="148.85" textLength="5.70" lengthAdjust="spacingAndGlyphs">2</text>
<path d="M98,156.90 H145.6" stroke="#2a3cff" stroke-width="1.7" stroke-dasharray="7.7 2.4 1.1 2.5 1.1 2.5 1.1 2.7" fill="none"/>
<text x="152.25" y="160.10" textLength="5.70" lengthAdjust="spacingAndGlyphs" font-family="Liberation Serif, serif" font-size="9.8px" fill="#000">Γ</text>
<text x="158.55" y="160.10" textLength="6.40" lengthAdjust="spacingAndGlyphs">=</text>
<text x="165.75" y="160.10" textLength="5.90" lengthAdjust="spacingAndGlyphs">3</text>
</g>
<g font-family="Liberation Sans, sans-serif" font-size="9.2px" fill="#1a1a1a" text-anchor="middle">
<circle cx="274.1" cy="127.4" r="1.4" fill="#2a3cff"/>
<text x="272.20" y="123.50" textLength="11.1" lengthAdjust="spacingAndGlyphs">62</text>
<circle cx="206.25" cy="193.25" r="1.4" fill="#2a3cff"/>
<text x="204.35" y="189.35" textLength="11.1" lengthAdjust="spacingAndGlyphs">73</text>
<circle cx="280" cy="211.75" r="1.4" fill="#2a3cff"/>
<text x="278.10" y="207.85" textLength="11.1" lengthAdjust="spacingAndGlyphs">55</text>
<circle cx="233" cy="231" r="1.4" fill="#2a3cff"/>
<text x="231.10" y="227.10" textLength="11.1" lengthAdjust="spacingAndGlyphs">28</text>
<circle cx="206.25" cy="236.25" r="1.4" fill="#2a3cff"/>
<text x="204.35" y="232.35" textLength="11.1" lengthAdjust="spacingAndGlyphs">59</text>
<circle cx="225" cy="243.25" r="1.4" fill="#2a3cff"/>
<text x="223.10" y="239.35" textLength="11.1" lengthAdjust="spacingAndGlyphs">24</text>
<circle cx="280" cy="247.5" r="1.4" fill="#2a3cff"/>
<text x="278.10" y="243.60" textLength="11.1" lengthAdjust="spacingAndGlyphs">69</text>
<circle cx="322.3" cy="245.3" r="1.4" fill="#2a3cff"/>
<text x="320.40" y="241.40" textLength="11.1" lengthAdjust="spacingAndGlyphs">51</text>
<circle cx="213.75" cy="264.5" r="1.4" fill="#2a3cff"/>
<text x="211.85" y="260.60" textLength="11.1" lengthAdjust="spacingAndGlyphs">63</text>
<circle cx="269.5" cy="263.75" r="1.4" fill="#2a3cff"/>
<text x="267.60" y="259.85" textLength="11.1" lengthAdjust="spacingAndGlyphs">74</text>
<circle cx="306.6" cy="271.1" r="1.4" fill="#2a3cff"/>
<text x="304.70" y="267.20" textLength="11.1" lengthAdjust="spacingAndGlyphs">90</text>
<circle cx="202" cy="288.75" r="1.4" fill="#2a3cff"/>
<text x="200.10" y="284.85" textLength="11.1" lengthAdjust="spacingAndGlyphs">43</text>
</g>
</svg>
</body></html>
